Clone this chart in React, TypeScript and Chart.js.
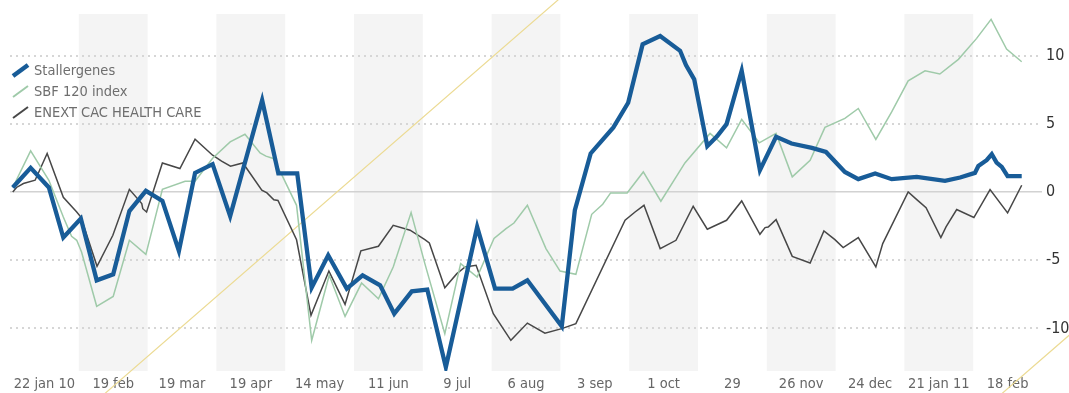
import { useEffect, useRef } from 'react';
import { Chart, registerables } from 'chart.js';

Chart.register(...registerables);

// x values are trading days counted from 22 jan 2010; y values are % change
const tickDays = [0, 20, 40, 60, 80, 100, 120, 140, 160, 180, 200, 220, 240, 260, 280];
const tickLabels = ['22 jan 10', '19 feb', '19 mar', '19 apr', '14 may', '11 jun', '9 jul', '6 aug', '3 sep', '1 oct', '29', '26 nov', '24 dec', '21 jan 11', '18 feb'];
const yTicks = [-10, -5, 0, 5, 10];

const stallX = [-9.2, -4.0, 1.3, 5.5, 10.6, 15.2, 20.0, 24.7, 29.5, 34.3, 39.1, 43.8, 48.9, 54.0, 63.3, 68.0, 73.5, 77.7, 82.5, 87.9, 92.5, 97.6, 101.7, 106.8, 111.3, 116.7, 125.8, 131.0, 136.1, 140.4, 150.4, 154.2, 158.8, 165.4, 169.7, 173.9, 179.0, 184.8, 186.5, 188.9, 192.7, 195.6, 198.3, 202.7, 208.0, 212.7, 217.2, 223.1, 227.2, 232.7, 236.6, 241.5, 246.3, 253.6, 261.8, 266.2, 270.5, 271.5, 273.9, 275.4, 276.8, 278.3, 280.0, 284.1];
const stallY = [0.35, 1.79, 0.35, -3.33, -1.93, -6.47, -6.03, -1.38, 0.10, -0.64, -4.32, 1.42, 2.06, -1.76, 6.76, 1.38, 1.38, -7.01, -4.63, -7.08, -6.10, -6.84, -8.92, -7.28, -7.15, -12.85, -2.55, -7.08, -7.08, -6.47, -9.85, -1.32, 2.85, 4.76, 6.57, 10.86, 11.47, 10.39, 9.34, 8.29, 3.38, 4.12, 5.0, 8.92, 1.62, 4.07, 3.58, 3.26, 2.96, 1.49, 0.96, 1.38, 0.96, 1.13, 0.83, 1.08, 1.42, 1.93, 2.35, 2.79, 2.18, 1.86, 1.18, 1.18];

const sbfX = [-9.2, -4.0, 1.3, 5.5, 7.9, 9.4, 10.8, 15.2, 20.0, 24.7, 29.5, 34.3, 40.9, 43.8, 48.9, 54.0, 58.3, 62.7, 64.4, 66.5, 69.3, 73.3, 77.7, 82.8, 87.4, 92.2, 97.1, 101.4, 106.6, 110.6, 116.4, 121.0, 125.8, 130.7, 134.2, 136.5, 140.4, 145.8, 149.9, 154.5, 159.1, 162.3, 164.6, 169.4, 174.1, 179.2, 186.2, 193.5, 198.3, 202.7, 207.8, 212.7, 217.4, 222.6, 226.9, 232.7, 236.6, 241.7, 246.3, 251.1, 256.0, 260.3, 265.7, 271.0, 275.2, 279.7, 284.1];
const sbfY = [0.35, 3.04, 0.88, -1.82, -3.24, -3.53, -4.39, -8.38, -7.65, -3.53, -4.56, 0.22, 0.81, 0.81, 2.5, 3.7, 4.26, 2.89, 2.65, 2.48, 1.13, -0.96, -10.88, -6.10, -9.12, -6.67, -7.82, -5.49, -1.49, -5.24, -10.39, -5.24, -6.23, -3.40, -2.67, -2.26, -0.96, -4.14, -5.79, -6.03, -1.62, -0.88, -0.05, -0.05, 1.49, -0.66, 2.15, 4.32, 3.26, 5.35, 3.63, 4.32, 1.13, 2.35, 4.76, 5.42, 6.15, 3.88, 5.90, 8.18, 8.92, 8.68, 9.76, 11.30, 12.70, 10.51, 9.58];

const healthX = [-9.2, -8.1, -6.1, -2.7, 0.8, 5.5, 9.4, 10.6, 15.3, 19.9, 24.7, 28.3, 28.6, 29.7, 34.3, 39.4, 43.8, 48.9, 51.5, 54.1, 57.7, 63.2, 64.7, 66.7, 67.9, 73.3, 77.5, 82.7, 87.4, 92.0, 97.1, 101.4, 106.3, 110.6, 111.9, 116.4, 119.9, 122.3, 125.5, 130.5, 135.6, 140.4, 145.5, 150.4, 154.5, 168.8, 171.7, 174.3, 179.0, 183.6, 188.6, 192.7, 198.3, 202.7, 208.0, 209.5, 210.4, 212.7, 217.4, 222.6, 226.6, 229.8, 232.2, 236.6, 241.7, 243.7, 251.1, 253.6, 256.3, 260.6, 262.1, 265.2, 270.2, 274.9, 280.0, 284.1];
const healthY = [0.02, 0.35, 0.64, 0.88, 2.85, -0.37, -1.45, -1.82, -5.44, -3.16, 0.21, -0.83, -1.21, -1.45, 2.15, 1.74, 3.90, 2.72, 2.28, 1.91, 2.15, 0.15, -0.05, -0.55, -0.61, -3.49, -9.04, -5.79, -8.24, -4.30, -3.97, -2.43, -2.79, -3.48, -3.73, -7.01, -5.98, -5.49, -5.37, -8.92, -10.88, -9.61, -10.35, -10.02, -9.65, -2.06, -1.45, -0.96, -4.14, -3.53, -1.03, -2.72, -2.06, -0.64, -3.09, -2.60, -2.55, -2.01, -4.71, -5.20, -2.85, -3.48, -4.07, -3.33, -5.49, -3.77, 0.02, -0.54, -1.13, -3.33, -2.55, -1.27, -1.86, 0.20, -1.52, 0.51];

// stray yellow guide line seen in the picture (two parallel pieces)
const guideX = [10, 155, 200, 270, 310];
const guideY = [-16.45, 15.37, null, -16.62, -7.85];

const FONT = "'Liberation Sans Narrow', 'Arial Narrow', 'DejaVu Sans Condensed', 'Liberation Sans', sans-serif";

const pts = (xs: number[], ys: (number | null)[]) => xs.map((x, i) => ({ x, y: ys[i] }));

const bandsPlugin = {
  id: 'bands',
  beforeDraw(chart: any) {
    const { ctx, chartArea, scales } = chart;
    const xs = scales.x;
    ctx.save();
    ctx.fillStyle = '#f4f4f4';
    tickDays.forEach((d, i) => {
      if (i % 2 === 1) {
        const a = xs.getPixelForValue(d - 10);
        const b = xs.getPixelForValue(d + 10);
        ctx.fillRect(a, chartArea.top, b - a, chartArea.bottom - chartArea.top);
      }
    });
    ctx.restore();
  },
};

const legendPlugin = {
  id: 'cornerLegend',
  afterDraw(chart: any) {
    const ctx = chart.ctx;
    ctx.save();
    ctx.font = `14.5px ${FONT}`;
    ctx.textBaseline = 'middle';
    let y = 71;
    chart.data.datasets.forEach((ds: any) => {
      if (ds.hideInLegend) return;
      ctx.strokeStyle = ds.borderColor;
      ctx.lineWidth = ds.borderWidth >= 3 ? 4.5 : 2;
      ctx.beginPath();
      ctx.moveTo(13, y + 5);
      ctx.lineTo(28, y - 6);
      ctx.stroke();
      ctx.fillStyle = '#6e6e6e';
      ctx.fillText(ds.label, 34, y);
      y += 21;
    });
    ctx.restore();
  },
};

export default function App() {
  const ref = useRef<HTMLCanvasElement>(null);
  useEffect(() => {
    if (!ref.current) return;
    const chart = new Chart(ref.current, {
      type: 'line',
      data: {
        datasets: [
          { label: 'Stallergenes', data: pts(stallX, stallY), borderColor: '#185c98', borderWidth: 4.3, pointRadius: 0, tension: 0 },
          { label: 'SBF 120 index', data: pts(sbfX, sbfY), borderColor: '#9fcaa9', borderWidth: 1.5, pointRadius: 0, tension: 0 },
          { label: 'ENEXT CAC HEALTH CARE', data: pts(healthX, healthY), borderColor: '#474747', borderWidth: 1.5, pointRadius: 0, tension: 0 },
          { label: 'guide', hideInLegend: true, data: pts(guideX, guideY), borderColor: '#ecdb94', borderWidth: 1.2, pointRadius: 0, tension: 0, clip: false, spanGaps: false } as any,
        ],
      },
      options: {
        responsive: false,
        animation: false,
        layout: { padding: { left: 10, top: 14, right: 0, bottom: 0 } },
        plugins: { legend: { display: false }, tooltip: { enabled: false } },
        scales: {
          x: {
            type: 'linear',
            min: -10,
            max: 290,
            afterBuildTicks: (s: any) => { s.ticks = tickDays.map((v) => ({ value: v })); },
            afterFit: (s: any) => { s.height = 22; },
            ticks: {
              autoSkip: false,
              maxRotation: 0,
              minRotation: 0,
              padding: 5,
              color: '#666',
              font: { family: FONT, size: 14.5 },
              callback: (v: any) => tickLabels[tickDays.indexOf(Number(v))] ?? '',
            },
            grid: { display: false, drawTicks: false },
            border: { display: false },
          },
          y: {
            type: 'linear',
            position: 'right',
            min: -13.13,
            max: 13.09,
            afterBuildTicks: (s: any) => { s.ticks = yTicks.map((v) => ({ value: v })); },
            afterFit: (s: any) => { s.width = 27; },
            ticks: {
              padding: 4,
              color: '#333',
              font: { family: FONT, size: 16 },
              callback: (v: any) => String(v),
            },
            grid: {
              drawTicks: false,
              color: (c: any) => (c.tick && c.tick.value === 0 ? '#d2d2d2' : '#d6d6d6'),
              lineWidth: (c: any) => (c.tick && c.tick.value === 0 ? 1.5 : 2),
            },
            border: {
              display: false,
              dash: (c: any) => (c.tick && c.tick.value === 0 ? [] : [2, 4]),
            } as any,
          },
        },
      } as any,
      plugins: [bandsPlugin, legendPlugin],
    });
    return () => chart.destroy();
  }, []);
  return (
    <div style={{ position: 'fixed', left: 0, top: 0, width: 1069, height: 393, background: '#fff' }}>
      <canvas ref={ref} width={1069} height={393} style={{ display: 'block' }} />
    </div>
  );
}
